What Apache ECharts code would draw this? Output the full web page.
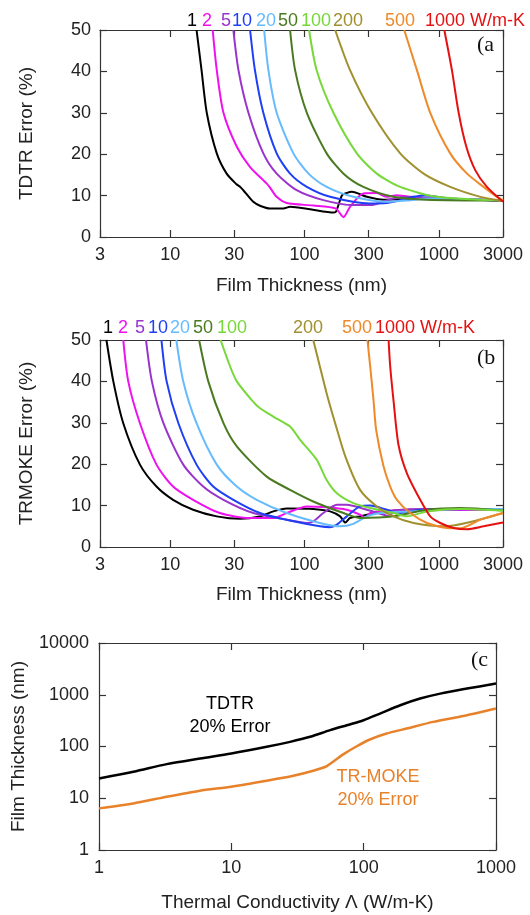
<!DOCTYPE html>
<html>
<head>
<meta charset="utf-8">
<script src="https://cdn.jsdelivr.net/npm/echarts@6.0.0/dist/echarts.min.js"></script>
<style>
html,body{margin:0;padding:0;background:#fff;}
#chart{width:530px;height:915px;}
</style>
</head>
<body>
<div id="chart"></div>
<script>
// ---------- tick labels ----------
const thicknessTicks = [3, 10, 30, 100, 300, 1000, 3000];
const errorTicksMax = 50;
const kappaTicks = [1, 10, 100, 1000];
const filmTicksC = [1, 10, 100, 1000, 10000];

// ---------- legend categories (W/m-K) ----------
const kappaLabels = ['1', '2', '5', '10', '20', '50', '100', '200', '500', '1000 W/m-K'];
const kappaColors = ['#000000', '#ee11ee', '#9933cc', '#1f3ff5', '#66bbff', '#4a7a1f', '#77d83a', '#a0902e', '#ee8a2a', '#e61010'];

// ---------- panel (a): TDTR error (%) vs film thickness (nm) ----------
const tdtrK1 = [[15.7,50],[17.1,40.3],[18.7,30],[22.2,20.2],[26.3,15.3],[31,12.8],[33.2,12.1],[35,11.3],[41.5,8.5],[47,7.5],[55.3,6.9],[69.5,6.9],[78,7.3],[110,6.7],[165,5.9],[172,6.2],[190,10.1],[205,10.6],[225,10.9],[291,9.7],[388,9.0],[600,9.2],[1500,9.1],[3000,8.7]];
const tdtrK2 = [[20.7,50],[22.2,40.3],[24.9,30],[31.3,21.8],[39.3,16.9],[52.3,12.9],[54.8,12.1],[62,9.7],[73.7,8.2],[116,7.6],[170,6.9],[195,4.8],[218,7.3],[274,10.5],[345,10.6],[410,9.7],[487,10.1],[700,9.4],[1500,9.2],[3000,8.8]];
const tdtrK5 = [[29.5,50],[32.2,40.3],[38.2,30],[49.3,20.2],[62,15.3],[87.3,11.3],[138,8.9],[231,7.7],[307,7.7],[459,9.3],[612,9.7],[1000,9.3],[3000,8.8]];
const tdtrK10 = [[39.3,50],[42.7,40.3],[49.3,30],[62,20.2],[78,15.3],[104,12.1],[155,9.7],[307,8.1],[410,8.2],[648,9.7],[771,10.1],[1200,9.3],[3000,8.8]];
const tdtrK20 = [[50,50],[53.8,40.3],[62,30],[82.6,20.2],[107,15.3],[146,12.1],[231,9.7],[410,8.5],[612,8.9],[815,9.3],[1500,9.2],[3000,8.8]];
const tdtrK50 = [[78,50],[85,40.3],[104,30],[146,20.2],[195,15.3],[274,12.1],[459,9.7],[815,9.0],[3000,8.8]];
const tdtrK100 = [[108,50],[123,40.3],[164,30],[245,20.2],[345,15.3],[515,12.1],[966,9.7],[3000,8.8]];
const tdtrK200 = [[169,50],[218,40.3],[317,30],[515,20.2],[769,15.3],[1214,12.1],[2035,9.7],[3000,8.7]];
const tdtrK500 = [[552,50],[686,40.3],[862,30],[1214,20.2],[1620,15.3],[2150,12.1],[2703,9.7],[3000,8.9]];
const tdtrK1000 = [[1097,50],[1250,40.3],[1403,30],[1600,21.8],[1868,16.1],[2277,12.1],[3000,8.5]];

// ---------- panel (b): TR-MOKE error (%) vs film thickness (nm) ----------
const tmK1 = [[3.35,50],[3.77,40],[4.47,29.9],[5.95,19.9],[7.9,14.6],[10.5,11.4],[14.8,9.0],[22.2,7.4],[33.2,6.8],[46.6,7.4],[58.5,8.6],[73.7,9.3],[116,9.2],[155,8.6],[184,7.4],[201,5.9],[218,7.0],[259,7.4],[366,8.4],[612,9.0],[3000,9.2]];
const tmK2 = [[4.47,50],[4.87,40],[5.95,29.9],[7.9,19.9],[10.5,14.6],[14.8,11.4],[23.4,8.2],[39.3,7.0],[58.5,7.0],[73.7,8.2],[104,9.8],[146,9.6],[206,9.0],[259,7.8],[282,7.0],[308,8.2],[434,8.8],[3000,9.0]];
const tmK5 = [[6.6,50],[7.3,40],[8.9,29.9],[12.5,19.9],[17.6,14.6],[24.9,11.4],[41.5,8.2],[73.7,6.6],[104,5.8],[116,6.2],[138,8.2],[174,10.2],[206,10.2],[291,9.0],[389,7.8],[434,7.4],[459,8.8],[815,9.2],[3000,9.2]];
const tmK10 = [[8.6,50],[9.4,40],[11.5,29.9],[15.7,19.9],[20.9,14.6],[29.5,11.4],[46.6,8.2],[82.6,6.2],[130,5.0],[155,4.8],[174,5.4],[206,7.4],[259,9.8],[308,10.0],[410,9.0],[515,8.2],[726,9.0],[3000,9.2]];
const tmK20 = [[11.1,50],[12.5,40],[15.7,29.9],[22.2,19.9],[31.3,14.6],[44,11.4],[73.7,8.2],[130,5.8],[184,5.0],[231,5.6],[291,7.4],[366,8.2],[612,8.6],[1443,9.2],[3000,9.2]];
const tmK50 = [[16.4,50],[19.2,40],[24.9,29.9],[31.3,24.3],[52.3,17.0],[78,13.8],[116,11.0],[195,8.2],[259,7.0],[459,7.4],[815,9.0],[1443,9.4],[3000,8.8]];
const tmK100 = [[23.7,50],[27.9,43.6],[31.3,40],[40.4,35.5],[46.6,33.5],[58.5,31.5],[78,29.1],[92.6,25.9],[123,21.1],[146,16.2],[174,13.0],[231,10.6],[308,9.4],[459,8.2],[578,7.4],[815,8.6],[1443,9.2],[3000,8.8]];
const tmK200 = [[116,50],[130,43.6],[146,37.1],[169,29.9],[201,21.9],[259,13.8],[345,9.8],[459,7.4],[648,5.8],[1085,5.0],[1286,5.2],[1812,6.2],[3000,8.2]];
const tmK500 = [[294,50],[308,43.6],[326,35.5],[341,28.3],[387,19.5],[434,14.6],[487,11.4],[612,8.2],[815,5.8],[1150,4.6],[1443,4.5],[2035,6.6],[3000,8.2]];
const tmK1000 = [[422,50],[434,43.6],[459,35.5],[500,24.7],[578,17.8],[726,11.4],[862,7.4],[1024,5.8],[1286,4.6],[1620,4.3],[2150,5.0],[3000,5.9]];

// ---------- panel (c): film thickness (nm) at 20% error vs thermal conductivity ----------
const tdtr20 = [[1,24.1],[1.82,32.5],[3.25,45.6],[5.8,58.7],[10,73.3],[18.5,98.6],[27.8,123],[39.4,154],[55.8,207],[74.6,258],[99.8,322],[133,433],[189,627],[267,844],[379,1052],[603,1315],[1000,1642]];
const trmoke20 = [[1,6.37],[1.82,7.95],[3.25,10.7],[5.8,14],[10,16.7],[18.5,21.8],[29.4,27.2],[41.6,34],[52.7,41.8],[70.5,71.1],[88.7,101],[111.5,136.5],[149,178],[211,222],[335,299],[604,402],[1000,541]];

const tdtrSets = [tdtrK1, tdtrK2, tdtrK5, tdtrK10, tdtrK20, tdtrK50, tdtrK100, tdtrK200, tdtrK500, tdtrK1000];
const tmSets = [tmK1, tmK2, tmK5, tmK10, tmK20, tmK50, tmK100, tmK200, tmK500, tmK1000];

const FONT = 'Liberation Sans, Arial, sans-serif';
const AX = '#333';
const lineAx = { show: true, onZero: false, lineStyle: { color: AX, width: 1.2 } };
const plain = v => String(Math.round(v));

function xLog(grid, min, max, labels, pos, name, gap) {
  const main = pos === 'bottom';
  return {
    type: 'log', logBase: 10, gridIndex: grid, min: min, max: max, position: pos,
    axisLine: lineAx,
    axisTick: { show: true, inside: true, length: 7, lineStyle: { color: AX, width: 1.2 }, customValues: labels },
    axisLabel: { show: main, customValues: labels, formatter: plain, fontFamily: FONT, fontSize: 18, color: '#222', margin: 9 },
    minorTick: { show: false }, splitLine: { show: false },
    name: main ? name : '', nameLocation: 'middle', nameGap: gap,
    nameTextStyle: { fontFamily: FONT, fontSize: 19, color: '#222' }
  };
}
function yVal(grid, pos, name) {
  const main = pos === 'left';
  return {
    type: 'value', gridIndex: grid, min: 0, max: errorTicksMax, interval: 10, position: pos,
    axisLine: lineAx,
    axisTick: { show: true, inside: true, length: 7, lineStyle: { color: AX, width: 1.2 } },
    axisLabel: { show: main, fontFamily: FONT, fontSize: 18, color: '#222', margin: 9 },
    splitLine: { show: false },
    name: main ? name : '', nameLocation: 'middle', nameGap: 64, nameRotate: 90,
    nameTextStyle: { fontFamily: FONT, fontSize: 19, color: '#222' }
  };
}
function yLog(grid, pos, name) {
  const main = pos === 'left';
  return {
    type: 'log', logBase: 10, gridIndex: grid, min: 1, max: 10000, position: pos,
    axisLine: lineAx,
    axisTick: { show: true, inside: true, length: 7, lineStyle: { color: AX, width: 1.2 }, customValues: filmTicksC },
    axisLabel: { show: main, customValues: filmTicksC, formatter: plain, fontFamily: FONT, fontSize: 18, color: '#222', margin: 10 },
    minorTick: { show: false }, splitLine: { show: false },
    name: main ? name : '', nameLocation: 'middle', nameGap: 66, nameRotate: 90,
    nameTextStyle: { fontFamily: FONT, fontSize: 19, color: '#222' }
  };
}

const series = [];
tdtrSets.forEach((d, i) => series.push({
  type: 'line', xAxisIndex: 0, yAxisIndex: 0, data: d, showSymbol: false, symbol: 'none',
  smooth: 0.25, lineStyle: { width: 2, color: kappaColors[i] }, itemStyle: { color: kappaColors[i] }, z: 3 + i
}));
tmSets.forEach((d, i) => series.push({
  type: 'line', xAxisIndex: 2, yAxisIndex: 2, data: d, showSymbol: false, symbol: 'none',
  smooth: 0.25, lineStyle: { width: 2, color: kappaColors[i] }, itemStyle: { color: kappaColors[i] }, z: 3 + i
}));
series.push({ type: 'line', xAxisIndex: 4, yAxisIndex: 4, data: tdtr20, showSymbol: false, symbol: 'none', smooth: 0.3, lineStyle: { width: 2.5, color: '#000' } });
series.push({ type: 'line', xAxisIndex: 4, yAxisIndex: 4, data: trmoke20, showSymbol: false, symbol: 'none', smooth: 0.2, lineStyle: { width: 2.5, color: '#e8822a' } });

// legend label x positions (panel a / panel b)
const legendXa = [187, 202, 221, 232, 256, 278, 301, 333, 385, 425];
const legendXb = [103, 118, 135, 148, 170, 193, 217, 293, 342, 375];
const graphics = [];
kappaLabels.forEach((t, i) => {
  graphics.push({ type: 'text', x: legendXa[i], y: 21, style: { text: t, fill: kappaColors[i], font: '18px ' + FONT, verticalAlign: 'middle', align: 'left' } });
  graphics.push({ type: 'text', x: legendXb[i], y: 328, style: { text: t, fill: kappaColors[i], font: '18px ' + FONT, verticalAlign: 'middle', align: 'left' } });
});
const serif = '22px Liberation Serif, Times New Roman, serif';
graphics.push({ type: 'text', x: 477, y: 45, style: { text: '(a', fill: '#111', font: serif, verticalAlign: 'middle' } });
graphics.push({ type: 'text', x: 477, y: 358, style: { text: '(b', fill: '#111', font: serif, verticalAlign: 'middle' } });
graphics.push({ type: 'text', x: 471, y: 660, style: { text: '(c', fill: '#111', font: serif, verticalAlign: 'middle' } });
graphics.push({ type: 'text', x: 230, y: 704, style: { text: 'TDTR', fill: '#000', font: '18px ' + FONT, align: 'center', verticalAlign: 'middle' } });
graphics.push({ type: 'text', x: 230, y: 727, style: { text: '20% Error', fill: '#000', font: '18px ' + FONT, align: 'center', verticalAlign: 'middle' } });
graphics.push({ type: 'text', x: 378, y: 777, style: { text: 'TR-MOKE', fill: '#e8822a', font: '18px ' + FONT, align: 'center', verticalAlign: 'middle' } });
graphics.push({ type: 'text', x: 378, y: 800, style: { text: '20% Error', fill: '#e8822a', font: '18px ' + FONT, align: 'center', verticalAlign: 'middle' } });

const option = {
  animation: false,
  backgroundColor: '#fff',
  grid: [
    { left: 100, top: 30, width: 403, height: 207 },
    { left: 100, top: 340, width: 403, height: 207 },
    { left: 99, top: 643, width: 397, height: 207 }
  ],
  xAxis: [
    xLog(0, 3, 3000, thicknessTicks, 'bottom', 'Film Thickness (nm)', 39),
    xLog(0, 3, 3000, thicknessTicks, 'top', '', 0),
    xLog(1, 3, 3000, thicknessTicks, 'bottom', 'Film Thickness (nm)', 38),
    xLog(1, 3, 3000, thicknessTicks, 'top', '', 0),
    xLog(2, 1, 1000, kappaTicks, 'bottom', 'Thermal Conductivity \u039B (W/m-K)', 43),
    xLog(2, 1, 1000, kappaTicks, 'top', '', 0)
  ],
  yAxis: [
    yVal(0, 'left', 'TDTR Error (%)'),
    yVal(0, 'right', ''),
    yVal(1, 'left', 'TRMOKE Error (%)'),
    yVal(1, 'right', ''),
    yLog(2, 'left', 'Film Thickness (nm)'),
    yLog(2, 'right', '')
  ],
  series: series,
  graphic: graphics
};

const chart = echarts.init(document.getElementById('chart'), null, { renderer: 'canvas' });
chart.setOption(option);
</script>
</body>
</html>
